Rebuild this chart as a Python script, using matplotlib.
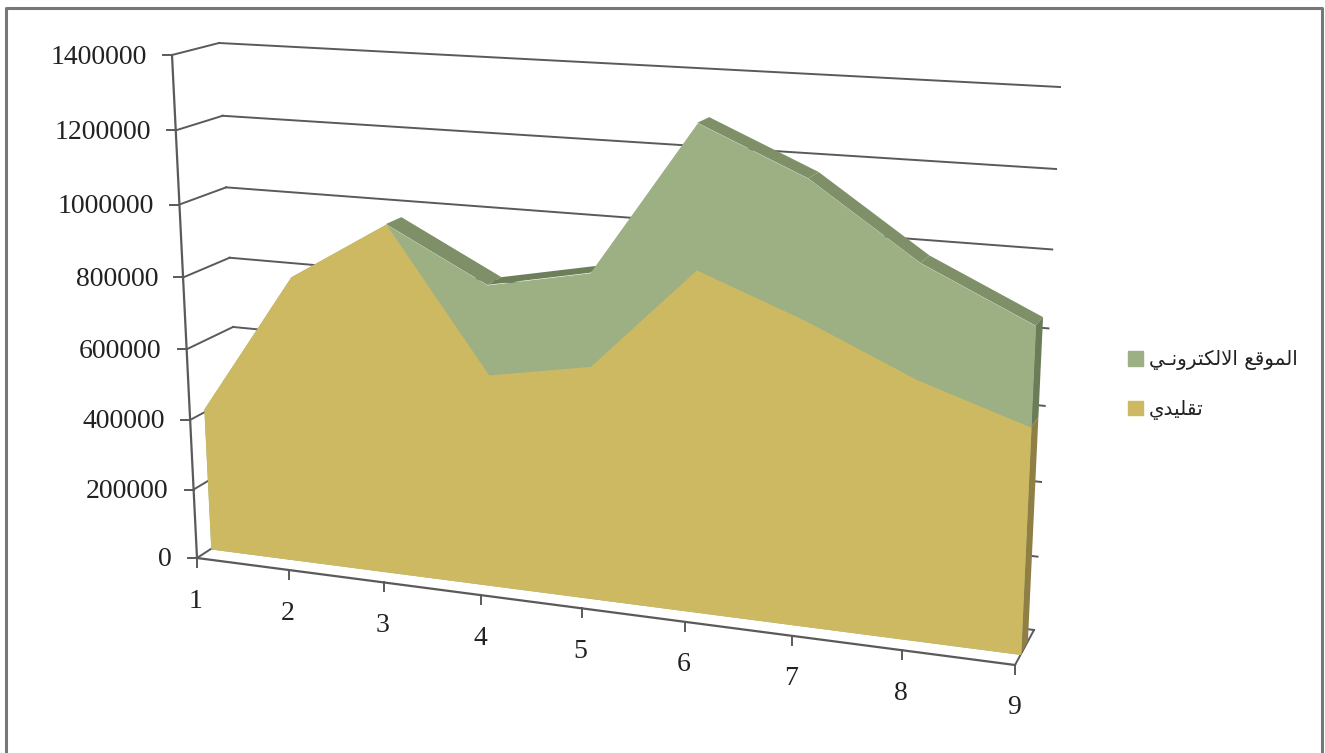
import matplotlib
matplotlib.use('Agg')
import matplotlib.pyplot as plt
import numpy as np
from matplotlib.patches import Patch
from matplotlib.transforms import Transform

# monthly values, bottom series then the one stacked on top
cats = np.array([1, 2, 3, 4, 5, 6, 7, 8, 9])
traditional = np.array([410000, 808000, 973000, 589000, 639000, 917000, 810000, 685000, 592000])
website = np.array([0, 0, 0, 243000, 248000, 373000, 359000, 294000, 255000])
value_ticks = [0, 200000, 400000, 600000, 800000, 1000000, 1200000, 1400000]

# arabic is stored as shaped presentation forms, reversed for left to right drawing
label_website = '\ufe8d\ufedf\ufee4\ufeee\ufed7\ufeca \ufe8d\ufefb\ufedf\ufedc\ufe98\ufeae\ufeed\ufee7\u0640\ufef2'[::-1]
label_traditional = '\ufe97\ufed8\ufee0\ufef4\ufeaa\ufef1'[::-1]

YELLOW = '#cdb962'
GREEN = '#9cb084'
GREEN_TOP = '#7f9069'
GREEN_RISE = '#6d7f59'
GREEN_SIDE = '#6b7c58'
YELLOW_SIDE = '#8f7f45'
LINE = '#5a5a5a'

# screen corners of the chart box: bottom left, bottom right, top right, top left
FRONT = np.array([[197, 558], [1015, 665], [1040, 101], [172, 55]], float)
BACK = np.array([[243, 528], [1034, 630], [1060, 87], [219, 43]], float)
FACE_Z = 0.30
REAR_Z = 0.68


def homography(quad):
    # maps the unit square onto quad
    src = [(0, 0), (1, 0), (1, 1), (0, 1)]
    a, b = [], []
    for (u, w), (x, y) in zip(src, quad):
        a.append([u, w, 1, 0, 0, 0, -u * x, -w * x])
        a.append([0, 0, 0, u, w, 1, -u * y, -w * y])
        b += [x, y]
    return np.append(np.linalg.solve(np.array(a), np.array(b)), 1).reshape(3, 3)


class Plane(Transform):
    # (category, value) to pixels on a slice of the box at depth z
    input_dims = 2
    output_dims = 2

    def __init__(self, z):
        super().__init__()
        self.h = homography(FRONT + z * (BACK - FRONT))

    def transform_non_affine(self, values):
        values = np.asarray(values, float)
        u = (values[:, 0] - cats[0]) / (cats[-1] - cats[0])
        w = values[:, 1] / value_ticks[-1]
        p = self.h @ np.vstack([u, w, np.ones_like(u)])
        return (p[:2] / p[2]).T


def fill_between_planes(c, v, color, zorder):
    # band running from the face of the area to its rear
    pts = np.column_stack([c, v])
    ax.fill(*np.vstack([face.transform(pts), rear.transform(pts)[::-1]]).T,
            color=color, lw=0, zorder=zorder)


fig = plt.figure(figsize=(13.25, 7.53), dpi=100)
ax = fig.add_axes([0, 0, 1, 1])
ax.set_xlim(0, 1325)
ax.set_ylim(753, 0)
ax.axis('off')

front, back = Plane(0), Plane(1)
face, rear = Plane(FACE_Z), Plane(REAR_Z)
total = traditional + website

# outer frame, open at the bottom
ax.plot([6, 6, 1322, 1322], [753, 7.5, 7.5, 753], color='#777777', lw=2.2, zorder=1)

# walls
for v in value_ticks:
    ax.plot([cats[0], cats[-1]], [v, v], color=LINE, lw=1.4, zorder=2,
            transform=back + ax.transData)
    p0, p1 = front.transform([[cats[0], v]])[0], back.transform([[cats[0], v]])[0]
    ax.plot([p0[0], p1[0]], [p0[1], p1[1]], color=LINE, lw=1.4, zorder=2)
    ax.plot([p0[0] - 9, p0[0]], [p0[1], p0[1]], color=LINE, lw=1.4, zorder=2)
    ax.text(p0[0] - 25, p0[1] + 2, str(v), ha='right', va='center', family='Liberation Serif',
            fontsize=20, color='#222222')

# axes lines of the floor
ax.plot([cats[0], cats[0]], [0, value_ticks[-1]], color=LINE, lw=1.6, zorder=2,
        transform=front + ax.transData)
ax.plot([cats[0], cats[-1]], [0, 0], color=LINE, lw=1.6, zorder=2,
        transform=front + ax.transData)
p0, p1 = front.transform([[cats[-1], 0]])[0], back.transform([[cats[-1], 0]])[0]
ax.plot([p0[0], p1[0]], [p0[1], p1[1]], color=LINE, lw=1.4, zorder=2)
for c in cats:
    x, y = front.transform([[c, 0]])[0]
    ax.plot([x, x], [y, y + 9], color=LINE, lw=1.4, zorder=2)
    ax.text(x - 1, y + 43, str(c), ha='center', va='center', family='Liberation Serif',
            fontsize=20, color='#222222')

# top of the stack, darker where it climbs; steep climbs stay hidden behind the face
for i in range(len(cats) - 1):
    climb = total[i + 1] - total[i]
    if website[i + 1] == 0 or climb > 100000:
        continue
    fill_between_planes(cats[i:i + 2], total[i:i + 2], GREEN_RISE if climb > 0 else GREEN_TOP, 3)

# right hand end of the areas
fill_between_planes([cats[-1], cats[-1]], [0, traditional[-1]], YELLOW_SIDE, 3)
fill_between_planes([cats[-1], cats[-1]], [traditional[-1], total[-1]], GREEN_SIDE, 3)

# front faces, the green one runs down under the yellow so no seam shows
ax.fill_between(cats, 0, total, color=GREEN, lw=0, zorder=4,
                transform=face + ax.transData)
ax.fill_between(cats, 0, traditional, color=YELLOW, lw=0, zorder=5,
                transform=face + ax.transData)

ax.set_xlim(0, 1325)
ax.set_ylim(753, 0)

handles = [Patch(color=GREEN, label=label_website), Patch(color=YELLOW, label=label_traditional)]
ax.legend(handles=handles, loc='center left', bbox_to_anchor=(1128 / 1325, 1 - 385 / 753),
          frameon=False, prop={'family': 'DejaVu Sans', 'size': 14.3}, handlelength=0.755,
          handleheight=0.755, handletextpad=0.3, labelspacing=1.49, borderpad=0, borderaxespad=0,
          labelcolor='#222222')

fig.savefig('out.png', dpi=100)
